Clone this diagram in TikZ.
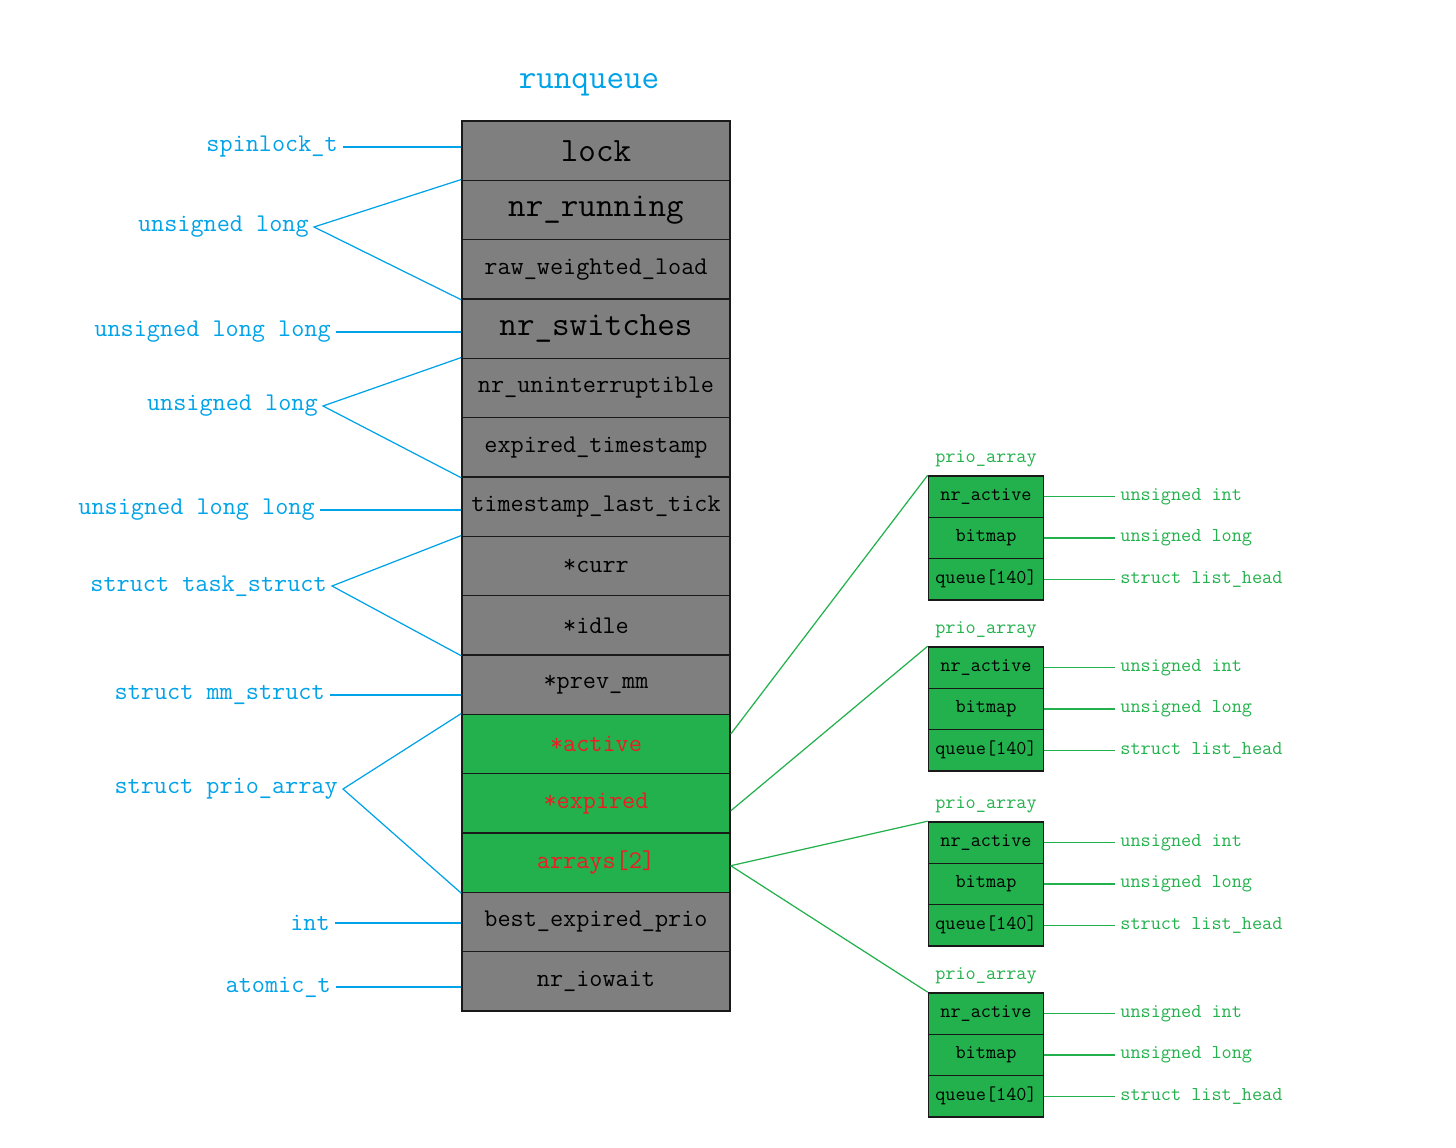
\documentclass[tikz,border=0pt]{standalone}
\usepackage{fontspec}
\definecolor{rqgray}{HTML}{7F7F7F}
\definecolor{rqgreen}{HTML}{22B14C}
\definecolor{rqred}{HTML}{ED1C24}
\definecolor{rqblue}{HTML}{00A2E8}
\tikzset{
  field/.style={draw=black!90,fill=rqgray,line width=0.9pt,minimum width=5.36cm,
    minimum height=1.187cm,inner sep=0pt,font=\ttfamily\fontsize{14.5}{16}\selectfont},
  bigfield/.style={field,font=\ttfamily\fontsize{19.4}{22}\selectfont},
  hotfield/.style={field,fill=rqgreen,text=rqred},
  pfield/.style={draw=black!90,fill=rqgreen,line width=0.9pt,minimum width=2.3cm,
    minimum height=0.827cm,inner sep=0pt,font=\ttfamily\fontsize{11.2}{13}\selectfont},
  ctype/.style={text=rqblue,anchor=east,inner xsep=0.1cm,font=\ttfamily\fontsize{14.5}{16}\selectfont},
  ptype/.style={text=rqgreen,anchor=west,inner xsep=0.1cm,font=\ttfamily\fontsize{11.2}{13}\selectfont},
  tyline/.style={rqblue,line width=0.7pt},
  arrline/.style={rqgreen,line width=0.7pt}
}
\begin{document}
\begin{tikzpicture}[x=0.02cm,y=-0.02cm]
  \useasboundingbox (0,0) rectangle (1456,1148);
  \node[text=rqblue,font=\ttfamily\fontsize{19.4}{22}\selectfont] (title) at (589,85) {runqueue};
  % runqueue fields
  \node[bigfield] (lock) at (596,150.7) {lock};
  \node[bigfield] (nrrun) at (596,210) {nr\_running};
  \node[field] (rwload) at (596,269.3) {raw\_weighted\_load};
  \node[bigfield] (nrsw) at (596,328.7) {nr\_switches};
  \node[field] (nrunint) at (596,388) {nr\_uninterruptible};
  \node[field] (exptime) at (596,447.3) {expired\_timestamp};
  \node[field] (lasttick) at (596,506.7) {timestamp\_last\_tick};
  \node[field] (curr) at (596,566) {*curr};
  \node[field] (idle) at (596,625.3) {*idle};
  \node[field] (prevmm) at (596,684.7) {*prev\_mm};
  \node[hotfield] (active) at (596,744) {*active};
  \node[hotfield] (expired) at (596,803.3) {*expired};
  \node[hotfield] (arrays) at (596,862.7) {arrays[2]};
  \node[field] (bestexp) at (596,922) {best\_expired\_prio};
  \node[field] (iowait) at (596,981.3) {nr\_iowait};
  % field types
  \node[ctype] (tlock) at (343,147) {spinlock\_t};
  \node[ctype] (tul1) at (314,227) {unsigned long};
  \node[ctype] (tull1) at (336,332) {unsigned long long};
  \node[ctype] (tul2) at (323,406) {unsigned long};
  \node[ctype] (tull2) at (320,510) {unsigned long long};
  \node[ctype] (ttask) at (332,586) {struct task\_struct};
  \node[ctype] (tmm) at (330,695) {struct mm\_struct};
  \node[ctype] (tprio) at (343,789) {struct prio\_array};
  \node[ctype] (tint) at (335,923) {int};
  \node[ctype] (tatom) at (336,987) {atomic\_t};
  \draw[tyline] (tlock.east) -- (tlock.east -| lock.west);
  \draw[tyline] (nrrun.north west) -- (tul1.east) -- (rwload.south west);
  \draw[tyline] (tull1.east) -- (tull1.east -| nrsw.west);
  \draw[tyline] (nrunint.north west) -- (tul2.east) -- (exptime.south west);
  \draw[tyline] (tull2.east) -- (tull2.east -| lasttick.west);
  \draw[tyline] (curr.north west) -- (ttask.east) -- (idle.south west);
  \draw[tyline] (tmm.east) -- (tmm.east -| prevmm.west);
  \draw[tyline] (active.north west) -- (tprio.east) -- (arrays.south west);
  \draw[tyline] (tint.east) -- (tint.east -| bestexp.west);
  \draw[tyline] (tatom.east) -- (tatom.east -| iowait.west);
  % prio arrays
  \foreach \i/\t in {1/476,2/647,3/822,4/993} {
    \node[text=rqgreen,font=\ttfamily\fontsize{11.2}{13}\selectfont] (pa\i) at (986,\t-17) {prio\_array};
    \node[pfield] (pn\i) at (986,\t+20.65) {nr\_active};
    \node[pfield] (pb\i) at (986,\t+62) {bitmap};
    \node[pfield] (pq\i) at (986,\t+103.3) {queue[140]};
    \node[ptype] (tn\i) at (1115,\t+20.65) {unsigned int};
    \node[ptype] (tb\i) at (1115,\t+62) {unsigned long};
    \node[ptype] (tq\i) at (1115,\t+103.3) {struct list\_head};
    \draw[arrline] (pn\i.east) -- (tn\i.west);
    \draw[arrline] (pb\i.east) -- (tb\i.west);
    \draw[arrline] (pq\i.east) -- (tq\i.west);
  }
  \draw[arrline] ([yshift=0.2cm]active.east) -- (pn1.north west);
  \draw[arrline] ([yshift=-0.15cm]expired.east) -- (pn2.north west);
  \draw[arrline] ([yshift=-0.06cm]arrays.east) -- (pn3.north west);
  \draw[arrline] ([yshift=-0.06cm]arrays.east) -- (pn4.north west);
\end{tikzpicture}
\end{document}
